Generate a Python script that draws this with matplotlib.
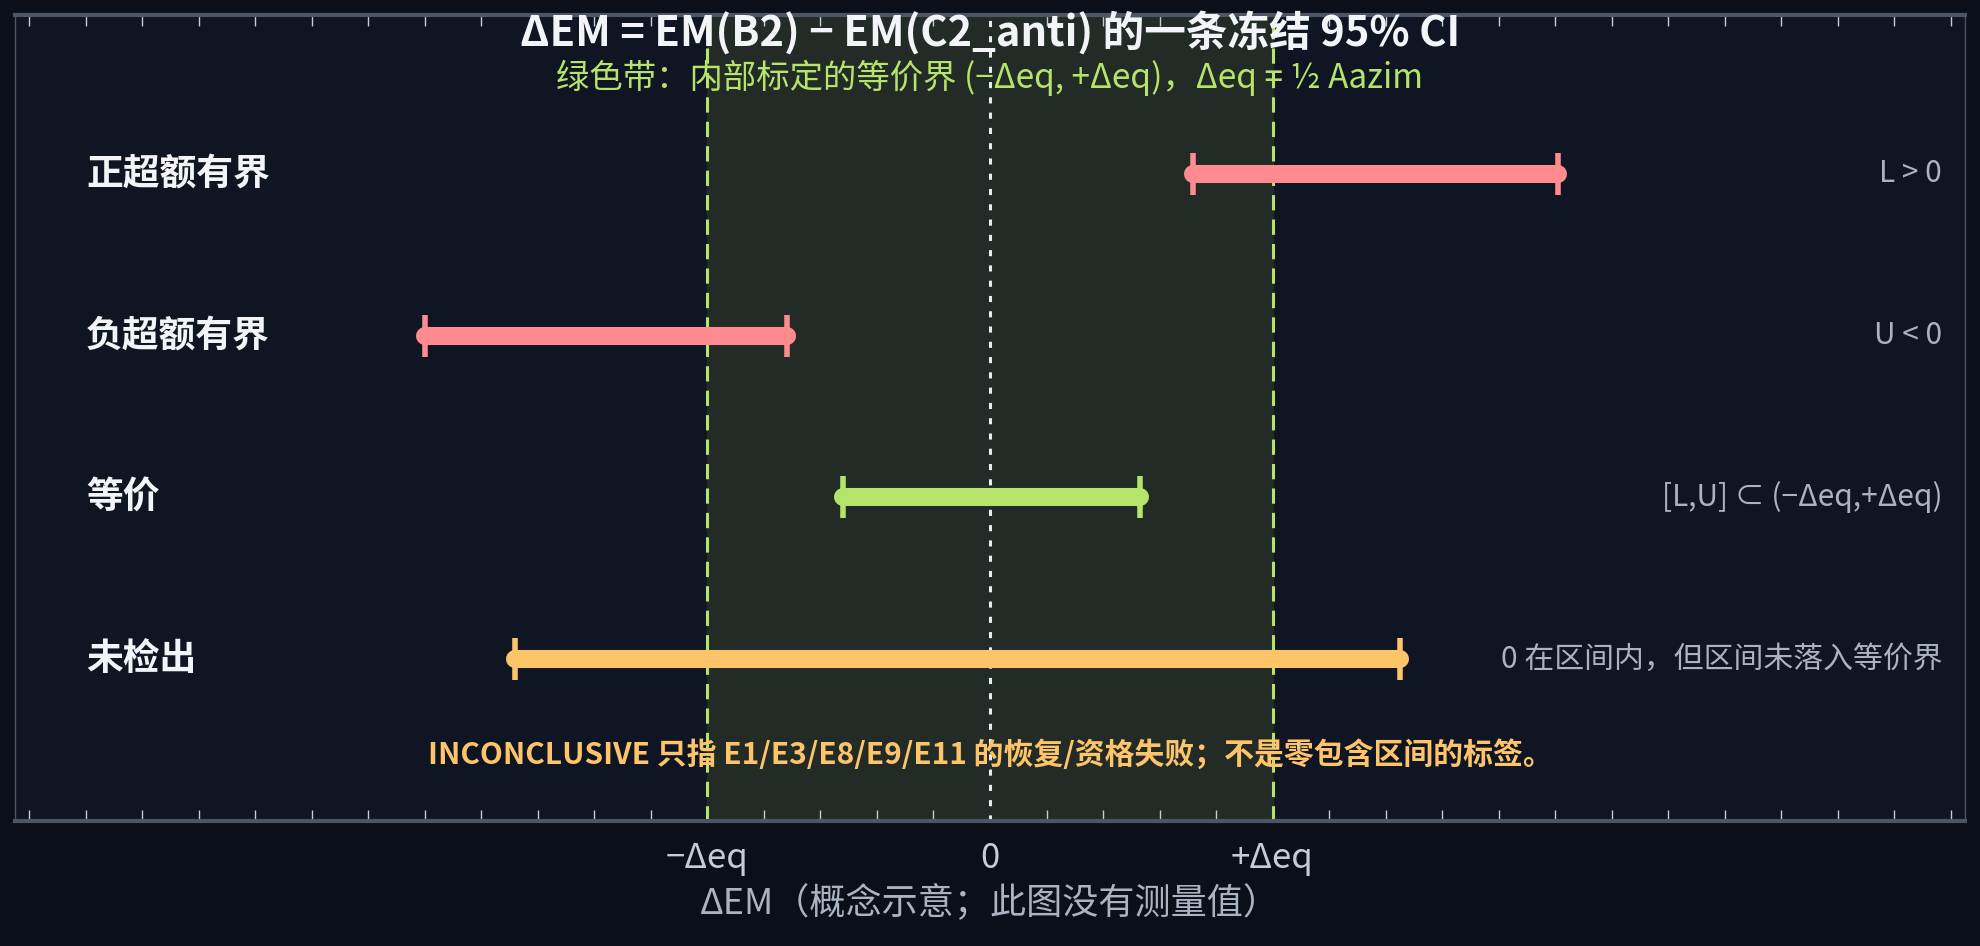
import matplotlib
matplotlib.use("Agg")
import matplotlib.pyplot as plt
import numpy as np

plt.rcParams["font.family"] = ["Noto Sans CJK SC", "DejaVu Sans"]

# 概念示意数据（单位：Δeq）
categories = ["正超额有界", "负超额有界", "等价", "未检出"]
lows = [0.72, -2.0, -0.52, -1.68]
highs = [2.01, -0.72, 0.53, 1.45]
colors = ["#ff8a8f", "#ff8a8f", "#b5e46a", "#fdc46a"]
notes = ["L > 0", "U < 0", "[L,U] ⊂ (−Δeq,+Δeq)", "0 在区间内，但区间未落入等价界"]
xtick_pos = [-1, 0, 1]
xtick_labels = ["−Δeq", "0", "+Δeq"]

bg = "#0a0f1a"
ax_bg = "#0f1522"

fig = plt.figure(figsize=(19.8, 9.46), dpi=100, facecolor=bg)
ax = fig.add_axes([0.0077, 0.132, 0.9846, 0.852], facecolor=ax_bg)

ax.axvspan(-1, 1, color="#232b27", zorder=0)
for x in (-1, 1):
    ax.axvline(x, color="#b5e46a", lw=2.2, ls=(0, (5, 3)), zorder=1)
ax.axvline(0, color="#e8ecf2", lw=2.2, ls=(0, (2, 3)), zorder=1)

ys = np.arange(len(categories))[::-1]
for y, lo, hi, c, cat, note in zip(ys, lows, highs, colors, categories, notes):
    ax.plot([lo, hi], [y, y], color=c, lw=13, solid_capstyle="round", zorder=3)
    ax.plot([lo, hi], [y, y], ls="none", marker="|", ms=30, mew=4, color=c, zorder=4)
    ax.text(-3.2, y, cat, color="#f2f4f8", fontsize=26.5, fontweight="bold",
            ha="left", va="center")
    ax.text(3.37, y, note, color="#aab3c2", fontsize=21.5, ha="right", va="center")

ax.text(0, 3.87, "ΔEM = EM(B2) − EM(C2_anti) 的一条冻结 95% CI", color="#f2f4f8",
        fontsize=30, fontweight="bold", ha="center", va="center")
ax.text(0, 3.59, "绿色带：内部标定的等价界 (−Δeq, +Δeq)，Δeq = ½ Aazim", color="#b5e46a",
        fontsize=24, ha="center", va="center")
ax.text(0, -0.59, "INCONCLUSIVE 只指 E1/E3/E8/E9/E11 的恢复/资格失败；不是零包含区间的标签。",
        color="#fdc46a", fontsize=21.5, fontweight="bold", ha="center", va="center")

ax.set_xlim(-3.45, 3.45)
ax.set_ylim(-1, 3.98)
ax.set_yticks([])
ax.set_xticks(xtick_pos)
ax.set_xticklabels(xtick_labels, color="#c5ccd8", fontsize=25)
ax.set_xticks(np.arange(-3.4, 3.41, 0.2), minor=True)
ax.tick_params(axis="x", which="both", direction="in", top=True, bottom=True,
               color="#c5ccd8", length=8, width=1, pad=14)
ax.tick_params(axis="x", which="major", length=0)
ax.set_xlabel("ΔEM（概念示意；此图没有测量值）", color="#aab3c2", fontsize=26, labelpad=6)
for name, sp in ax.spines.items():
    sp.set_color("#4a5566")
    sp.set_linewidth(3 if name in ("top", "bottom") else 1)

fig.savefig("out.png", dpi=100, facecolor=bg)
